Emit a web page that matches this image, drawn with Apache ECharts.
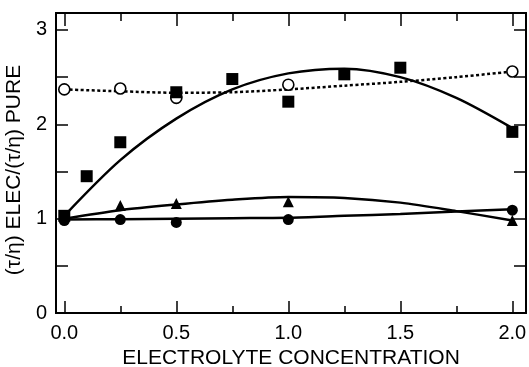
<!DOCTYPE html>
<html>
<head>
<meta charset="utf-8">
<script src="https://cdn.jsdelivr.net/npm/echarts@6/dist/echarts.min.js"></script>
<style>
    html, body { margin: 0; padding: 0; background: #fff; }
    #chart { width: 529px; height: 367px; }
</style>
</head>
<body>
<div id="chart"></div>
<script>
    // measured points
    var openX = [0, 0.25, 0.5, 1.0, 2.0];
    var openY = [2.37, 2.38, 2.28, 2.42, 2.56];
    var squareX = [0, 0.1, 0.25, 0.5, 0.75, 1.0, 1.25, 1.5, 2.0];
    var squareY = [1.03, 1.45, 1.81, 2.34, 2.48, 2.24, 2.53, 2.6, 1.92];
    var triX = [0, 0.25, 0.5, 1.0, 2.0];
    var triY = [1.03, 1.14, 1.16, 1.18, 0.98];
    var dotX = [0, 0.25, 0.5, 1.0, 2.0];
    var dotY = [0.98, 0.99, 0.96, 0.99, 1.09];

    // fitted curves at 0.25 steps
    var curveX = [0, 0.25, 0.5, 0.75, 1.0, 1.25, 1.5, 1.75, 2.0];
    var openCurve = [2.37, 2.35, 2.335, 2.34, 2.37, 2.41, 2.45, 2.5, 2.56];
    var squareCurve = [1.03, 1.62, 2.06, 2.37, 2.54, 2.59, 2.5, 2.28, 1.96];
    var triCurve = [1.0, 1.09, 1.15, 1.2, 1.23, 1.22, 1.17, 1.08, 0.98];
    var dotCurve = [0.99, 0.995, 1.0, 1.005, 1.01, 1.03, 1.05, 1.075, 1.1];

    // ticks
    var xMajor = [0, 0.5, 1.0, 1.5, 2.0];
    var xMinor = [0.25, 0.75, 1.25, 1.75];
    var yTicks = [0, 0.5, 1, 1.5, 2, 2.5, 3];
    var yLabels = [0, 1, 2, 3];

    function pairs(xs, ys) {
        return xs.map(function (x, i) { return [x, ys[i]]; });
    }

    var font = 'Liberation Sans, Arial, sans-serif';
    var ink = '#000';

    function xAxisOf(pos, ticks, len, withLabels) {
        return {
            type: 'value',
            position: pos,
            min: -0.037,
            max: 2.061,
            splitLine: {show: false},
            axisLine: {show: true, onZero: false, lineStyle: {color: ink, width: 2}},
            axisTick: {show: true, inside: true, length: len, customValues: ticks,
                lineStyle: {color: ink, width: 1.5}},
            axisLabel: withLabels ? {
                show: true, customValues: xMajor, margin: 10,
                color: ink, fontFamily: font, fontSize: 20,
                formatter: function (v) { return v.toFixed(1); }
            } : {show: false},
            name: withLabels ? 'ELECTROLYTE CONCENTRATION' : '',
            nameLocation: 'middle',
            nameGap: 34,
            nameTextStyle: {color: ink, fontFamily: font, fontSize: 21}
        };
    }

    function yAxisOf(pos, withLabels) {
        return {
            type: 'value',
            position: pos,
            min: 0,
            max: 3.18,
            splitLine: {show: false},
            axisLine: {show: true, onZero: false, lineStyle: {color: ink, width: 2}},
            axisTick: {show: true, inside: true, length: 12, customValues: yTicks,
                lineStyle: {color: ink, width: 1.5}},
            axisLabel: withLabels ? {
                show: true, customValues: yLabels, margin: 9,
                color: ink, fontFamily: font, fontSize: 20
            } : {show: false},
            name: withLabels ? '(τ/η) ELEC/(τ/η) PURE' : '',
            nameLocation: 'middle',
            nameGap: 21,
            nameTextStyle: {color: ink, fontFamily: font, fontSize: 21, padding: [0, 14, 0, 0]}
        };
    }

    function curve(ys, dotted) {
        return {
            type: 'line',
            data: pairs(curveX, ys),
            smooth: 0.3,
            showSymbol: false,
            silent: true,
            z: 1,
            lineStyle: {color: ink, width: 2.5, type: dotted ? [3, 2.5] : 'solid'}
        };
    }

    function marks(xs, ys, symbol, size, filled) {
        return {
            type: 'scatter',
            data: pairs(xs, ys),
            symbol: symbol,
            symbolSize: size,
            z: 3,
            itemStyle: filled ? {color: ink, opacity: 1} : {color: '#fff', borderColor: ink, borderWidth: 1.6, opacity: 1}
        };
    }

    var myChart = echarts.init(document.getElementById('chart'), null, {renderer: 'canvas'});
    myChart.setOption({
        animation: false,
        backgroundColor: '#fff',
        grid: {left: 56, right: 3, top: 13, bottom: 54, outerBoundsMode: 'none', containLabel: false},
        xAxis: [
            xAxisOf('bottom', xMajor, 12, true),
            xAxisOf('bottom', xMinor, 7, false),
            xAxisOf('top', xMajor, 13, false),
            xAxisOf('top', xMinor, 8, false)
        ],
        yAxis: [
            yAxisOf('left', true),
            yAxisOf('right', false)
        ],
        series: [
            curve(openCurve, true),
            curve(squareCurve, false),
            curve(triCurve, false),
            curve(dotCurve, false),
            marks(openX, openY, 'circle', 11, false),
            marks(squareX, squareY, 'rect', 12, true),
            marks(triX, triY, 'triangle', 11, true),
            marks(dotX, dotY, 'circle', 11, true)
        ]
    });
</script>
</body>
</html>
